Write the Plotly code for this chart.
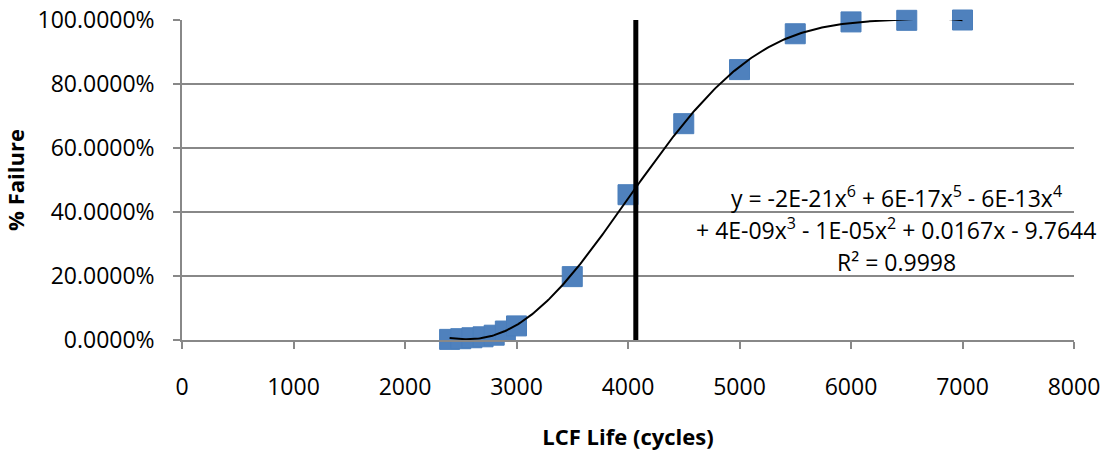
import numpy as np
import plotly.graph_objects as go

# Data
life_cycles = [2400, 2500, 2600, 2700, 2800, 2900, 3000, 3500, 4000, 4500, 5000, 5500, 6000, 6500, 7000]
pct_failure = [0.002, 0.004, 0.007, 0.010, 0.015, 0.028, 0.044, 0.198, 0.454, 0.676, 0.845, 0.957, 0.994, 0.999, 1.000]
mean_life = [4070]
mean_line_y = [0.0, 1.0]
x_ticks = [0, 1000, 2000, 3000, 4000, 5000, 6000, 7000, 8000]
y_ticks = [0.0, 0.2, 0.4, 0.6, 0.8, 1.0]
eq_lines = [
    "y = -2E-21x<sup>6</sup> + 6E-17x<sup>5</sup> - 6E-13x<sup>4</sup>",
    "+ 4E-09x<sup>3</sup> - 1E-05x<sup>2</sup> + 0.0167x - 9.7644",
    "R² = 0.9998",
]
eq_y = [0.448, 0.347, 0.244]
eq_x = 6404

FONT = "Open Sans"
BLUE = "#4F81BD"
GRID = "#888888"

# 6th-order polynomial trendline fitted to the data (as the spreadsheet does)
xs = np.array(life_cycles, dtype=float) / 1000.0
coef = np.polyfit(xs, np.array(pct_failure), 6)
xfit = np.linspace(min(life_cycles), max(life_cycles), 300)
yfit = np.polyval(coef, xfit / 1000.0)

fig = go.Figure()
fig.add_trace(go.Scatter(
    x=life_cycles, y=pct_failure, mode="markers",
    marker=dict(symbol="square", size=20, color=BLUE, line=dict(color="#4A7EBB", width=1)),
    cliponaxis=False, showlegend=False,
))
fig.add_trace(go.Scatter(
    x=mean_life * 2, y=mean_line_y, mode="lines",
    line=dict(color="black", width=5), cliponaxis=False, showlegend=False,
))
fig.add_trace(go.Scatter(
    x=xfit, y=yfit, mode="lines",
    line=dict(color="black", width=2), cliponaxis=False, showlegend=False,
))

for txt, yy in zip(eq_lines, eq_y):
    fig.add_annotation(x=eq_x, y=yy, xref="x", yref="y", text=txt, showarrow=False,
                       xanchor="center", yanchor="middle",
                       font=dict(family=FONT, size=23, color="black"))

fig.update_layout(
    width=1108, height=451,
    margin=dict(l=182, r=34, t=20, b=111, autoexpand=False),
    paper_bgcolor="white", plot_bgcolor="white",
    font=dict(family=FONT, size=23, color="black"),
)
fig.update_xaxes(
    range=[0, 8000], tickvals=x_ticks, ticktext=[str(v) for v in x_ticks],
    showgrid=False, zeroline=False, showline=True, linecolor=GRID, linewidth=1.5,
    ticks="outside", ticklen=7, tickcolor=GRID, tickwidth=1.5,
    ticklabelstandoff=19, automargin=False,
    title=dict(text="<b>LCF Life (cycles)</b>", standoff=32, font=dict(size=22)),
)
fig.update_yaxes(
    range=[0, 1], tickvals=y_ticks, tickformat=".4%",
    showgrid=True, gridcolor=GRID, gridwidth=1.5, zeroline=False,
    showline=True, linecolor=GRID, linewidth=1.5,
    ticks="outside", ticklen=7, tickcolor=GRID, tickwidth=1.5,
    ticklabelstandoff=14, automargin=False,
    title=dict(text="<b>% Failure</b>", standoff=8, font=dict(size=22)),
)

fig.write_html("out.html", config={"displayModeBar": False},
               post_script="document.body.style.margin='0';")
